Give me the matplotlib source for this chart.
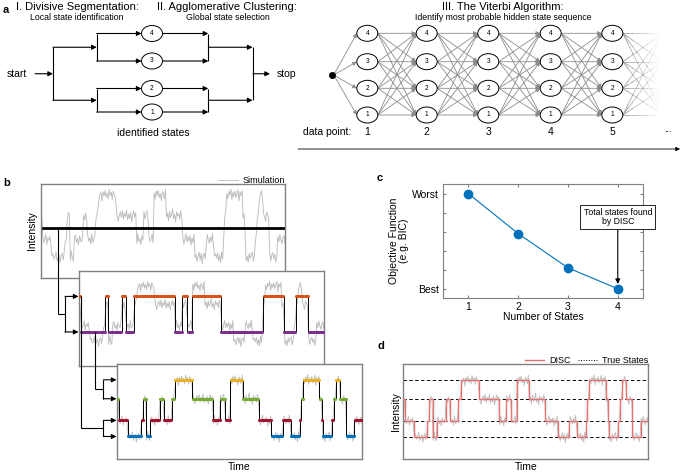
import numpy as np
import matplotlib
matplotlib.use('Agg')
import matplotlib.pyplot as plt
from matplotlib.patches import Ellipse
from matplotlib.lines import Line2D

plt.rcParams['font.family'] = ['Liberation Sans', 'DejaVu Sans']

W, H = 690, 475

# simulated trace: segments (start time, hidden state), time runs 0..100
seg_start = [0, 0.8, 4.5, 10, 10.8, 12, 13.5, 17.5, 19, 22.4, 23.7, 30.6, 39.2, 42, 44.3, 46.4, 51.4,
             58, 62.8, 67.6, 71, 74.5, 75, 75.9, 82.7, 83.5, 84, 87.5, 88.5, 89.2, 91, 93.4, 97]
seg_state = [3, 2, 1, 2, 3, 1, 2, 3, 2, 3, 4, 3, 2, 3, 2, 4, 3,
             2, 1, 2, 1, 2, 3, 4, 3, 2, 1, 2, 3, 4, 3, 1, 2]
state_levels = [0.0, 0.83, 1.98, 2.98]   # intensity of states 1..4

# noise on the trace (hundredths of intensity)
noise = [
    12, -8, 21, -15, 4, 27, -22, 9, -3, 18, -26, 7, 15, -11, 2, 24, -19, -6, 13, -28,
    5, 19, -14, 26, -9, 1, -23, 16, 8, -17, 29, -4, -20, 11, 22, -13, 6, -25, 17, -2,
    -10, 25, 3, -18, 14, -27, 20, -7, 10, -21, 28, -12, -1, 23, -16, 7, 35, -24, 4, 12,
    -30, 15, -5, 21, -11, 9, -19, 26, -3, 13, -22, 18, 2, -14, 31, -8, -26, 6, 19, -9,
    24, -17, 11, -4, 27, -20, 8, -13, 16, -29, 3, 22, -6, 14, -18, 30, -10, 5, -23, 17,
    -2, 20, -15, 9, 25, -25, 12, -7, 1, 28, -16, 10, -21, 18, -3, 23, -12, 6, -27, 15,
    8, -19, 26, -5, 13, -24, 21, -9, 4, 32, -14, 7, -28, 19, -1, 11, -17, 24, -8, 16,
    -22, 3, 29, -11, 14, -6, 20, -26, 9, -15, 27, -3, 12, -20, 5, 22, -13, 17, -30, 8,
    18, -7, -24, 25, 2, -16, 13, -10, 30, -21, 6, 15, -4, 21, -18, 10, -27, 26, -9, 1,
    -12, 23, 7, -19, 16, -2, 28, -23, 11, -8, 19, -14, 4, 25, -29, 14, -5, 20, -11, 9,
    27, -17, 3, -25, 18, -6, 12, 24, -20, 7, -13, 31, -9, 15, -22, 2, 21, -16, 10, -4,
    -26, 17, 6, -12, 29, -18, 8, 22, -7, 13, -24, 5, 16, -10, 26, -1, -19, 11, 20, -15,
]

# panel c
n_states = [1, 2, 3, 4]
objective = [1.0, 0.58, 0.22, 0.0]
obj_ticks = [0, 0.2, 0.4, 0.6, 0.8, 1.0]
obj_ticklabels = ['Best', '', '', '', '', 'Worst']

# panel a
a_states = [4, 3, 2, 1]
data_points = [1, 2, 3, 4, 5]

state_colors = {4: '#EDB120', 3: '#77AC30', 2: '#A2142F', 1: '#0072BD'}
hi_color, lo_color = '#D95319', '#7E2F8E'
trace_color = '#bdbdbd'
box_color = '#808080'

# build trace
n = len(noise)
t = np.arange(n) * 100.0 / (n - 1)
idx = np.searchsorted(seg_start, t, side='right') - 1
state = np.array(seg_state)[idx]
trace = np.array(state_levels)[state - 1] + np.array(noise) / 100.0

hi = state >= 3
hi_mean, lo_mean = trace[hi].mean(), trace[~hi].mean()
fit2 = np.where(hi, hi_mean, lo_mean)
means4 = {s: trace[state == s].mean() for s in a_states}
fit4 = np.array([means4[s] for s in state])

fig = plt.figure(figsize=(W / 100, H / 100), dpi=100)


def px_axes(x0, y0, x1, y1, **kw):
    return fig.add_axes([x0 / W, 1 - y1 / H, (x1 - x0) / W, (y1 - y0) / H], **kw)


def boxed(ax):
    ax.set_xticks([])
    ax.set_yticks([])
    for s in ax.spines.values():
        s.set_color(box_color)
        s.set_linewidth(1.0)


# ---------------- panel b ----------------
ax_b1 = px_axes(40.7, 184, 285, 278, zorder=1)
ln, = ax_b1.plot(t, trace, color=trace_color, lw=0.65, label='Simulation')
ax_b1.axhline(trace.mean(), color='k', lw=2)
ax_b1.set_xlim(0, 100)
ax_b1.set_ylim(-1.0, 3.5)
boxed(ax_b1)
ax_b1.set_ylabel('Intensity', fontsize=7.5, labelpad=3)
ax_b1.legend(handles=[ln], loc='lower right', bbox_to_anchor=(1.0, 0.99), frameon=False,
             fontsize=6.5, handlelength=2.2, borderpad=0, borderaxespad=0, handletextpad=0.5)

ax_b2 = px_axes(79, 271, 324, 366, zorder=2)
ax_b2.plot(t, trace, color=trace_color, lw=0.65, zorder=1)
ax_b2.plot(t, fit2, color='k', lw=0.7, drawstyle='steps-mid', zorder=2)
ax_b2.plot(t[hi], fit2[hi], 'o', ms=2.2, mec='none', color=hi_color, zorder=3)
ax_b2.plot(t[~hi], fit2[~hi], 'o', ms=2.2, mec='none', color=lo_color, zorder=3)
ax_b2.set_xlim(0, 100)
ax_b2.set_ylim(-1.35, 3.8)
boxed(ax_b2)

ax_b3 = px_axes(117, 364, 362, 459, zorder=3)
ax_b3.plot(t, trace, color=trace_color, lw=0.65, zorder=1)
ax_b3.plot(t, fit4, color='k', lw=0.7, drawstyle='steps-mid', zorder=2)
for s in a_states:
    m = state == s
    ax_b3.plot(t[m], fit4[m], 'o', ms=2.2, mec='none', color=state_colors[s], zorder=3)
ax_b3.set_xlim(0, 100)
ax_b3.set_ylim(-1.17, 3.82)
boxed(ax_b3)
ax_b3.set_xlabel('Time', fontsize=7.5, labelpad=2)

# ---------------- panel c ----------------
ax_c = px_axes(443.3, 184, 642.7, 298.3)
ax_c.plot(n_states, objective, '-o', color='#0072BD', lw=0.8, ms=6, mec='#0072BD')
ax_c.set_xlim(0.5, 4.5)
ax_c.set_ylim(-0.1, 1.1)
ax_c.set_xticks(n_states)
ax_c.set_yticks(obj_ticks)
ax_c.set_yticklabels(obj_ticklabels)
ax_c.tick_params(direction='in', top=True, right=True, length=2.5, color=box_color,
                 labelsize=7.5, pad=3)
for s in ax_c.spines.values():
    s.set_color(box_color)
    s.set_linewidth(0.8)
ax_c.set_xlabel('Number of States', fontsize=7.5, labelpad=0)
ax_c.set_ylabel('Objective Function\n(e.g. BIC)', fontsize=7.5, labelpad=2, linespacing=1.0)
ax_c.annotate('Total states found\nby DISC', xy=(n_states[-1], objective[-1] + 0.05),
              xytext=(n_states[-1], 0.754), ha='center', va='center', fontsize=6.3,
              linespacing=1.1, annotation_clip=False,
              bbox=dict(boxstyle='square,pad=0.35', fc='white', ec='k', lw=0.6),
              arrowprops=dict(arrowstyle='-|>', color='k', lw=0.8, mutation_scale=7,
                              shrinkA=0, shrinkB=0))

# ---------------- panel d ----------------
ax_d = px_axes(403.3, 364.3, 648.3, 459.3)
ax_d.plot(t, trace, color=trace_color, lw=0.65, zorder=1)
for lv in state_levels:
    ax_d.axhline(lv, color='k', lw=0.7, ls=(0, (3.5, 2.5)), zorder=2)
disc, = ax_d.plot(t, fit4, color='#E57373', lw=1.0, drawstyle='steps-mid', zorder=3, label='DISC')
true_proxy = Line2D([], [], color='k', lw=0.7, ls=':', label='True States')
ax_d.set_xlim(0, 100)
ax_d.set_ylim(-1.17, 3.82)
boxed(ax_d)
ax_d.set_ylabel('Intensity', fontsize=7.5, labelpad=2)
ax_d.set_xlabel('Time', fontsize=7.5, labelpad=2)
ax_d.legend(handles=[disc, true_proxy], loc='lower right', bbox_to_anchor=(1.0, 0.99), ncol=2,
            frameon=False, fontsize=6.5, handlelength=2.2, borderpad=0, borderaxespad=0,
            handletextpad=0.5, columnspacing=0.8)

# ---------------- overlay: schematic of panel a and connectors ----------------
ax0 = fig.add_axes([0, 0, 1, 1], zorder=10)
ax0.set_xlim(0, W)
ax0.set_ylim(H, 0)
ax0.axis('off')


def arrow(x0, y0, x1, y1, color='k', lw=0.8, ms=7):
    ax0.annotate('', xy=(x1, y1), xytext=(x0, y0),
                 arrowprops=dict(arrowstyle='-|>', color=color, lw=lw, mutation_scale=ms,
                                 shrinkA=0, shrinkB=0))


def line(xs, ys, color='k', lw=0.8):
    ax0.plot(xs, ys, color=color, lw=lw, solid_capstyle='butt')


def node(x, y, label):
    ax0.add_patch(Ellipse((x, y), 21, 16, fc='white', ec='k', lw=0.7, zorder=5))
    ax0.text(x, y, str(label), ha='center', va='center', fontsize=4.8, zorder=6)


def py(ax, v):
    return H - ax.transData.transform((0, v))[1]


# panel labels
for lab, x, y in [('a', 3, 10), ('b', 3, 183), ('c', 377, 178), ('d', 377, 346)]:
    ax0.text(x, y, lab, fontsize=8, fontweight='bold', ha='left', va='center')

# a: divisive / agglomerative
ax0.text(77, 7, 'I. Divisive Segmentation:', fontsize=8, ha='center', va='center')
ax0.text(77, 17, 'Local state identification', fontsize=6.3, ha='center', va='center')
ax0.text(227, 7, 'II. Agglomerative Clustering:', fontsize=8, ha='center', va='center')
ax0.text(228, 17, 'Global state selection', fontsize=6.3, ha='center', va='center')

a_x = 152
a_rows = [33.5, 61, 88.5, 112]
top_mid = (a_rows[0] + a_rows[1]) / 2
bot_mid = (a_rows[2] + a_rows[3]) / 2
mid = (top_mid + bot_mid) / 2
ax0.text(7, mid, 'start', fontsize=7.5, ha='left', va='center')
arrow(35, mid, 53, mid)
line([53, 53], [top_mid, bot_mid])
arrow(53, top_mid, 96.7, top_mid)
arrow(53, bot_mid, 96.7, bot_mid)
line([96.7, 96.7], [a_rows[0], a_rows[1]])
line([96.7, 96.7], [a_rows[2], a_rows[3]])
for s, y in zip(a_states, a_rows):
    arrow(96.7, y, a_x - 10.5, y)
    node(a_x, y, s)
    arrow(a_x + 10.5, y, 208.3, y)
line([208.3, 208.3], [a_rows[0], a_rows[1]])
line([208.3, 208.3], [a_rows[2], a_rows[3]])
arrow(208.3, top_mid, 252.5, top_mid)
arrow(208.3, bot_mid, 252.5, bot_mid)
line([253, 253], [top_mid, bot_mid])
arrow(253, mid, 270, mid)
ax0.text(277, mid, 'stop', fontsize=7.5, ha='left', va='center')
ax0.text(153, 133, 'identified states', fontsize=7.5, ha='center', va='center')

# a: Viterbi trellis
ax0.text(503, 7, 'III. The Viterbi Algorithm:', fontsize=8, ha='center', va='center')
ax0.text(503, 17, 'Identify most probable hidden state sequence', fontsize=6.3,
         ha='center', va='center')
col_x = [367.3, 426.7, 488.3, 550.7, 612.3]
row_y = [33.3, 61.7, 88.3, 115]
edge_c = '#8c8c8c'
start_pt = (331.7, (row_y[1] + row_y[2]) / 2)
for y in row_y:
    arrow(start_pt[0] + 2, start_pt[1], col_x[0] - 10.5, y, color=edge_c, lw=0.6, ms=6)
ax0.plot(*start_pt, 'o', color='k', ms=4, zorder=6)
for c in range(len(col_x) - 1):
    for y0 in row_y:
        for y1 in row_y:
            arrow(col_x[c] + 10.5, y0, col_x[c + 1] - 10.5, y1, color=edge_c, lw=0.6, ms=6)
# fading edges after the last column
x_next = col_x[-1] + (col_x[-1] - col_x[-2])
fade = np.linspace(0, 0.85, 8)
for y0 in row_y:
    for y1 in row_y:
        xa, xb = col_x[-1] + 10.5, x_next - 10.5
        for k in range(len(fade) - 1):
            f0, f1 = fade[k], fade[k + 1]
            ax0.plot([xa + (xb - xa) * f0, xa + (xb - xa) * f1],
                     [y0 + (y1 - y0) * f0, y0 + (y1 - y0) * f1],
                     color=edge_c, lw=0.6, alpha=0.8 * (1 - k / (len(fade) - 1)))
for x, dp in zip(col_x, data_points):
    for s, y in zip(a_states, row_y):
        node(x, y, s)
    ax0.text(x, 132, str(dp), fontsize=7.5, ha='center', va='center')
ax0.text(303, 132, 'data point:', fontsize=7.5, ha='left', va='center')
ax0.text(668, 130, '...', fontsize=6.5, ha='center', va='center')
arrow(298, 149, 680, 149, lw=0.6, ms=6)

# b: connectors between hierarchy levels
y_mean = py(ax_b1, trace.mean())
y_hi, y_lo = py(ax_b2, hi_mean), py(ax_b2, lo_mean)
y4, y3, y2, y1 = [py(ax_b3, means4[s]) for s in a_states]

line([58.3, 58.3], [y_mean, (y_hi + y_lo) / 2])
line([58.3, 65], [(y_hi + y_lo) / 2] * 2)
line([65, 65], [y_hi, y_lo])
arrow(65, y_hi, 78.5, y_hi)
arrow(65, y_lo, 78.5, y_lo)

line([95, 95], [y_lo, (y4 + y3) / 2])
line([95, 103.3], [(y4 + y3) / 2] * 2)
line([103.3, 103.3], [y4, y3])
arrow(103.3, y4, 116.5, y4)
arrow(103.3, y3, 116.5, y3)

line([80.5, 80.5], [y_hi, (y2 + y1) / 2])
line([80.5, 103.3], [(y2 + y1) / 2] * 2)
line([103.3, 103.3], [y2, y1])
arrow(103.3, y2, 116.5, y2)
arrow(103.3, y1, 116.5, y1)

fig.savefig('out.png', dpi=100)
